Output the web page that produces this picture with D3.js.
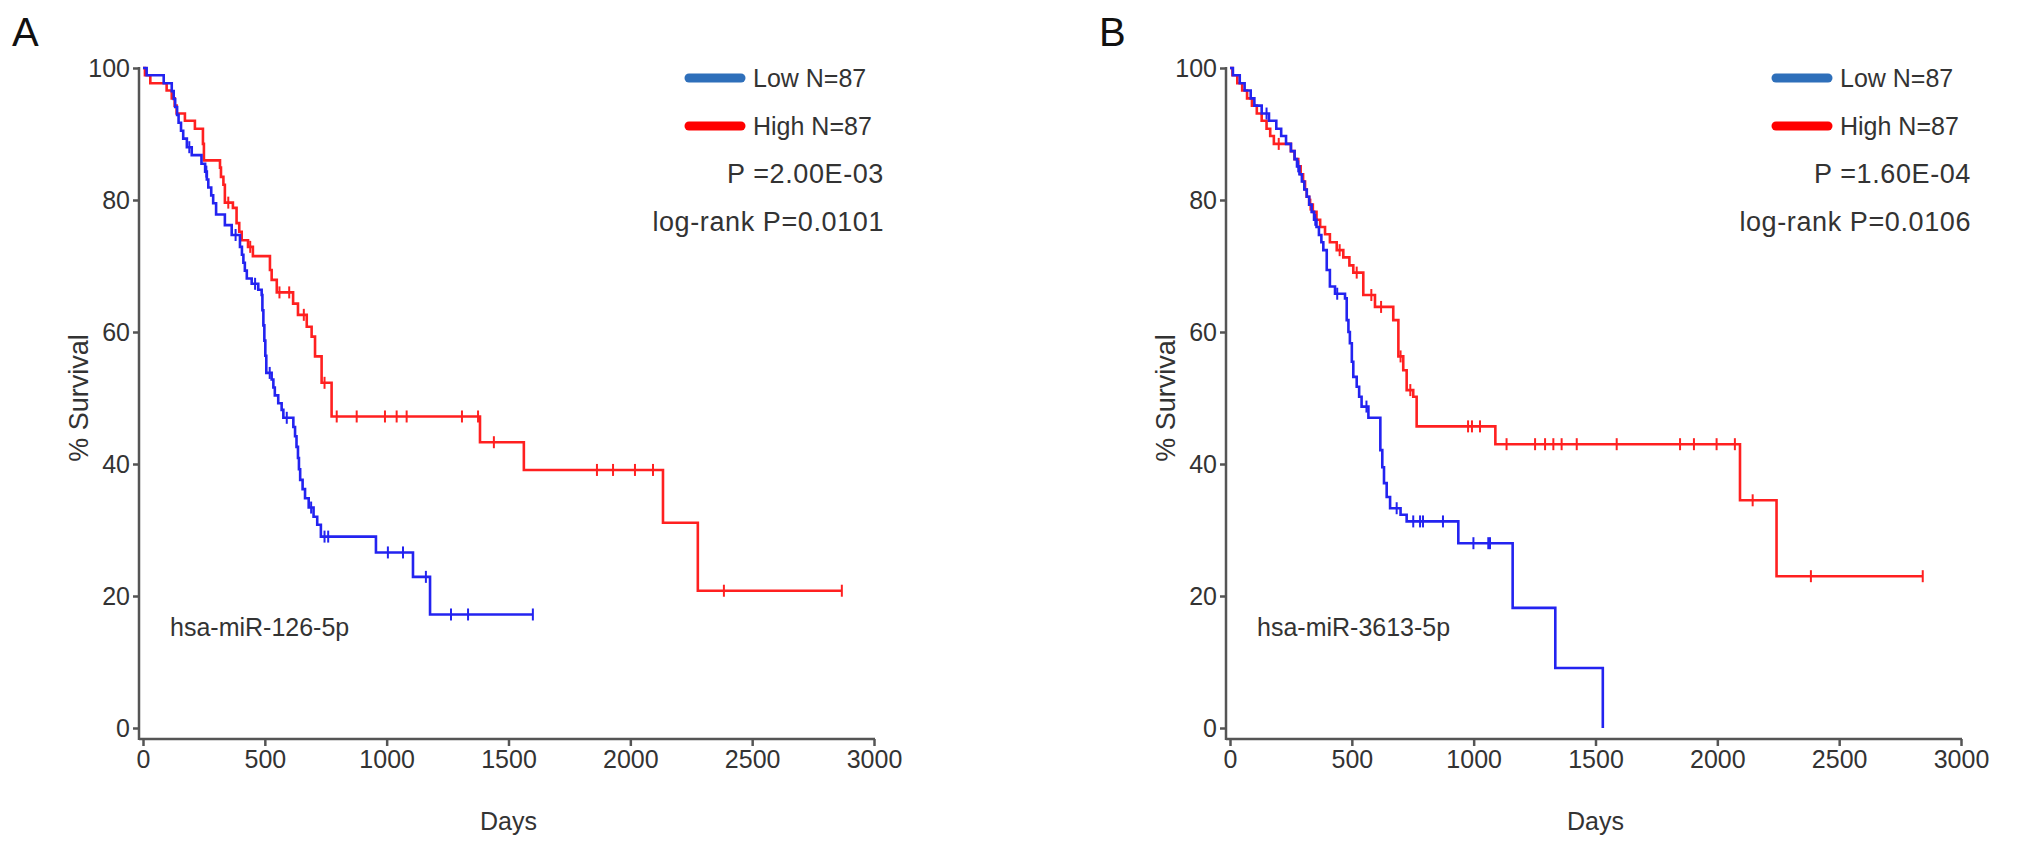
<!DOCTYPE html>
<html><head><meta charset="utf-8">
<script src="https://cdn.jsdelivr.net/npm/d3@7"></script>
<style>
html,body{margin:0;padding:0;background:#fff;}
svg text{font-family:"Liberation Sans",Arial,sans-serif;}
</style></head>
<body>
<svg id="chart" width="2031" height="855"></svg>
<script>
// ---------- DATA ----------
const xTicks = [0, 500, 1000, 1500, 2000, 2500, 3000];
const yTicks = [0, 20, 40, 60, 80, 100];
const panelLabels = ["A", "B"];
const mirNames = ["hsa-miR-126-5p", "hsa-miR-3613-5p"];
const legendLabels = ["Low N=87", "High N=87"];
const pValues = ["P =2.00E-03", "P =1.60E-04"];
const logRank = ["log-rank P=0.0101", "log-rank P=0.0106"];

// Kaplan-Meier steps: [day, survival after event]
const lowA = [[15,98.9],[85,97.7],[118,96.5],[126,95.3],[132,94.1],[140,92.9],[146,91.7],[156,90.5],[165,89.3],[180,88.0],[200,86.8],[240,85.5],[255,84.3],[262,83.1],[268,81.9],[280,80.7],[288,79.5],[300,77.8],[336,76.2],[364,74.7],[398,72.9],[406,71.7],[412,70.5],[418,69.3],[426,68.1],[446,67.3],[473,66.4],[487,65.6],[490,63.3],[494,61.0],[498,58.7],[502,56.4],[506,53.8],[528,52.8],[535,51.6],[541,50.4],[555,49.2],[569,48.2],[576,47.0],[617,45.6],[624,44.2],[630,42.6],[636,40.9],[640,39.2],[645,37.6],[655,36.2],[665,34.8],[680,33.4],[700,32.0],[715,30.8],[730,29.0],[956,26.6],[1108,22.9],[1178,17.2]];
const lowAEnd = 1600;
const lowACens = [190,260,380,460,520,590,690,745,760,1005,1067,1161,1264,1334,1600];

const highA = [[8,98.9],[30,97.7],[97,96.6],[118,95.4],[130,94.3],[138,93.1],[172,92.0],[213,90.8],[246,88.5],[250,86.0],[316,84.9],[320,83.5],[330,82.3],[336,79.6],[369,78.8],[384,76.5],[395,75.2],[405,73.9],[431,72.9],[451,71.5],[521,69.4],[528,67.9],[549,66.0],[616,64.3],[636,62.6],[672,60.8],[692,59.3],[706,56.3],[733,52.3],[774,47.2],[1383,43.3],[1563,39.1],[2134,31.1],[2277,20.8]];
const highAEnd = 2868;
const highACens = [350,440,560,600,660,745,795,877,993,1041,1082,1309,1375,1440,1863,1929,2019,2093,2384,2868];

const lowB = [[12,98.9],[40,97.7],[60,96.6],[85,95.4],[100,94.3],[130,93.1],[160,92.0],[190,90.8],[210,89.7],[230,88.5],[250,87.4],[265,86.2],[275,85.1],[285,83.9],[295,82.8],[305,81.6],[315,80.5],[325,79.3],[335,78.2],[345,77.0],[355,75.9],[365,74.7],[375,73.6],[383,72.4],[397,69.4],[410,66.9],[431,65.8],[472,65.1],[479,61.8],[486,60.0],[492,58.3],[500,55.5],[506,53.2],[520,51.7],[530,50.2],[540,48.7],[568,47.0],[617,42.1],[625,39.5],[632,37.1],[643,35.0],[657,33.3],[700,32.3],[725,31.3],[937,28.0],[1160,18.2],[1335,9.1],[1530,0]];
const lowBEnd = 1530;
const lowBCens = [150,280,350,440,560,684,752,780,792,874,999,1060,1067];

const highB = [[10,98.9],[30,97.7],[50,96.6],[70,95.4],[90,94.3],[110,93.1],[130,92.0],[150,90.8],[165,89.7],[180,88.5],[250,87.4],[265,86.2],[280,85.1],[290,83.9],[300,82.8],[308,81.6],[315,80.5],[325,79.3],[340,78.2],[355,77.0],[370,75.9],[390,74.8],[410,73.6],[438,72.4],[465,71.3],[490,70.1],[506,69.0],[547,65.6],[595,63.8],[670,61.8],[691,56.3],[711,54.2],[725,51.2],[752,50.2],[766,45.7],[1089,43.0],[2093,34.5],[2243,23.0]];
const highBEnd = 2843;
const highBCens = [200,330,450,520,580,620,700,740,977,993,1026,1135,1252,1293,1327,1361,1423,1587,1847,1904,1997,2072,2145,2384,2843];

// ---------- DRAW ----------
const svg = d3.select("#chart");
const BLUE = "#2323f0", RED = "#ff2020", LEG_BLUE = "#2e6fba", LEG_RED = "#ff0000";
const AX = "#555";

const panels = [
  {off: 0,    low: lowA, lowEnd: lowAEnd, lowC: lowACens, high: highA, highEnd: highAEnd, highC: highACens},
  {off: 1087, low: lowB, lowEnd: lowBEnd, lowC: lowBCens, high: highB, highEnd: highBEnd, highC: highBCens}
];

function survAt(steps, t) {
  let s = 100;
  for (const [tt, ss] of steps) { if (tt <= t) s = ss; else break; }
  return s;
}

panels.forEach((p, i) => {
  const x = d3.scaleLinear().domain([0, 3000]).range([143 + p.off, 874 + p.off]);
  const y = d3.scaleLinear().domain([0, 100]).range([728, 68]);
  const g = svg.append("g");
  const axisY = 739;
  const yAxX = 139 + p.off;

  // y axis
  const ya = g.append("g").attr("transform", `translate(${yAxX},0)`)
    .call(d3.axisLeft(y).tickValues(yTicks).tickSize(6).tickPadding(3).tickFormat(d3.format("d")));
  ya.select(".domain").remove();
  ya.selectAll(".tick line").attr("stroke", AX).attr("stroke-width", 2.5);
  ya.selectAll(".tick text").attr("fill", "#333").style("font-size", "25px");
  g.append("line").attr("x1", yAxX).attr("x2", yAxX).attr("y1", y(100) - 1).attr("y2", axisY + 1)
    .attr("stroke", AX).attr("stroke-width", 2.5);

  // x axis
  const xa = g.append("g").attr("transform", `translate(0,${axisY})`)
    .call(d3.axisBottom(x).tickValues(xTicks).tickSize(7).tickPadding(4).tickFormat(d3.format("d")));
  xa.select(".domain").remove();
  xa.selectAll(".tick line").attr("stroke", AX).attr("stroke-width", 2.5);
  xa.selectAll(".tick text").attr("fill", "#333").style("font-size", "25px");
  g.append("line").attr("x1", yAxX).attr("x2", x(3000) + 1).attr("y1", axisY).attr("y2", axisY)
    .attr("stroke", AX).attr("stroke-width", 2.5);

  // axis titles
  g.append("text").attr("x", x(1500)).attr("y", 830).attr("text-anchor", "middle")
    .attr("fill", "#333").style("font-size", "25px").text("Days");
  g.append("text").attr("transform", `translate(${88 + p.off},${y(50)}) rotate(-90)`)
    .attr("text-anchor", "middle").attr("fill", "#333").style("font-size", "27px").text("% Survival");

  // panel letter
  g.append("text").attr("x", 12 + p.off).attr("y", 46).attr("fill", "#111")
    .style("font-size", "40px").text(panelLabels[i]);

  // curves
  const line = d3.line().x(d => x(d[0])).y(d => y(d[1])).curve(d3.curveStepAfter);
  function drawKM(steps, end, cens, color) {
    const pts = [[0, 100], ...steps];
    const last = steps[steps.length - 1];
    if (last[0] < end) pts.push([end, last[1]]);
    g.append("path").datum(pts).attr("d", line).attr("fill", "none")
      .attr("stroke", color).attr("stroke-width", 2.6);
    g.selectAll(null).data(cens).enter().append("line")
      .attr("x1", d => x(d)).attr("x2", d => x(d))
      .attr("y1", d => y(survAt(steps, d)) - 6).attr("y2", d => y(survAt(steps, d)) + 6)
      .attr("stroke", color).attr("stroke-width", 2);
  }
  drawKM(p.high, p.highEnd, p.highC, RED);
  drawKM(p.low, p.lowEnd, p.lowC, BLUE);

  // legend
  const lx = 689 + p.off;
  [[LEG_BLUE, 78, legendLabels[0]], [LEG_RED, 126, legendLabels[1]]].forEach(([c, yy, t]) => {
    g.append("line").attr("x1", lx).attr("x2", lx + 52).attr("y1", yy).attr("y2", yy)
      .attr("stroke", c).attr("stroke-width", 9).attr("stroke-linecap", "round");
    g.append("text").attr("x", lx + 64).attr("y", yy + 9).attr("fill", "#333")
      .style("font-size", "25px").text(t);
  });
  g.append("text").attr("x", 884 + p.off).attr("y", 183).attr("text-anchor", "end")
    .attr("fill", "#333").style("font-size", "27px").style("letter-spacing", "0.6px").text(pValues[i]);
  g.append("text").attr("x", 884 + p.off).attr("y", 231).attr("text-anchor", "end")
    .attr("fill", "#333").style("font-size", "27px").style("letter-spacing", "0.6px").text(logRank[i]);

  // miRNA name
  g.append("text").attr("x", 170 + p.off).attr("y", 636).attr("fill", "#333")
    .style("font-size", "25px").text(mirNames[i]);
});
</script>
</body></html>
